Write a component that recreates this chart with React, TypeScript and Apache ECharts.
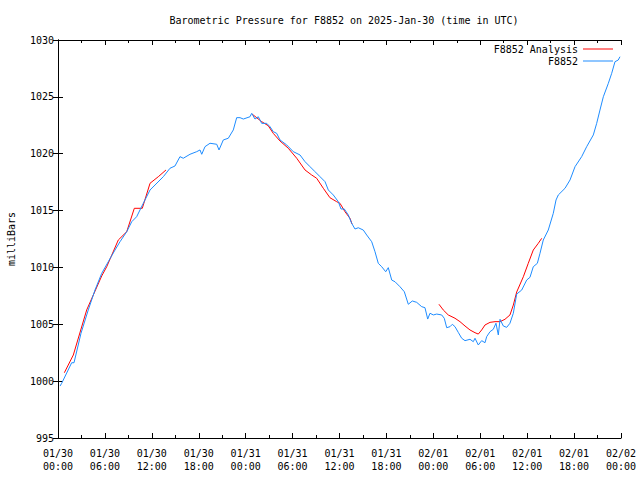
import React, { useEffect, useRef } from "react";
import * as echarts from "echarts";

const titleText = "Barometric Pressure for F8852 on 2025-Jan-30 (time in UTC)";
const yAxisName = "milliBars";
const dateLabels = ["01/30", "01/31", "02/01", "02/02"];
const timeLabels = ["00:00", "06:00", "12:00", "18:00"];

// F8852 observations: hours since 2025-01-30 00:00 UTC, pressure in mb
const obsHours = [
  0.26, 0.47, 1.75, 2.05, 2.94, 3.87, 4.73, 5.59, 6.43, 7.29, 7.93, 8.79, 9.43, 10.06, 10.91,
  11.77, 12.41, 13.47, 14.32, 14.96, 15.6, 16.02, 16.88, 17.74, 18.16, 18.38, 18.8, 19.44, 20.3,
  20.59, 21.14, 21.78, 22.42, 22.85, 23.28, 23.7, 24.55, 24.77, 25.19, 25.62, 26.05, 26.69, 27.11,
  27.53, 27.97, 28.39, 29.25, 30.09, 30.95, 31.59, 32.23, 32.87, 33.51, 34.15, 34.57, 35.21, 35.85,
  36.19, 36.61, 37.13, 37.56, 37.98, 38.4, 39.04, 39.48, 40.12, 40.54, 40.96, 41.4, 41.91, 42.24,
  42.68, 43.1, 43.74, 44.29, 44.8, 45.31, 45.87, 46.51, 46.93, 47.28, 47.57, 48.0, 48.43, 49.07,
  49.4, 49.71, 50.13, 50.43, 50.77, 51.19, 51.63, 52.05, 52.69, 53.11, 53.33, 53.75, 54.18, 54.61,
  54.82, 55.25, 55.67, 56.01, 56.31, 56.53, 56.95, 57.38, 57.8, 58.23, 58.66, 59.3, 59.94, 60.36,
  60.78, 61.3, 61.64, 62.06, 62.7, 63.34, 63.69, 63.98, 64.84, 65.48, 66.12, 66.97, 67.61, 68.46,
  68.89, 69.31, 69.74, 70.38, 70.81, 71.23, 71.65, 71.87,
];
const obsValues = [
  999.57, 999.81, 1001.62, 1001.62, 1004.21, 1006.26, 1008.01, 1009.48, 1010.5, 1011.53, 1012.26,
  1013.14, 1014.02, 1014.46, 1015.64, 1016.81, 1017.25, 1017.98, 1018.72, 1018.92, 1019.74, 1019.6,
  1019.95, 1020.18, 1020.33, 1019.95, 1020.62, 1020.92, 1020.83, 1020.33, 1021.21, 1021.36, 1022.09,
  1023.17, 1023.17, 1023.05, 1023.25, 1023.55, 1023.05, 1023.25, 1022.67, 1022.67, 1022.38, 1021.94,
  1021.79, 1021.21, 1020.77, 1020.18, 1019.89, 1019.3, 1018.86, 1018.42, 1017.98, 1017.54, 1016.81,
  1016.37, 1015.78, 1015.14, 1015.14, 1014.61, 1013.88, 1013.38, 1013.49, 1013.29, 1012.85, 1012.26,
  1011.38, 1010.36, 1010.06, 1009.62, 1009.98, 1008.89, 1008.74, 1008.3, 1007.86, 1006.76, 1007.05,
  1006.93, 1006.55, 1006.46, 1005.46, 1005.97, 1005.82, 1005.9, 1005.82, 1005.53, 1004.7, 1004.79,
  1005.0, 1004.79, 1004.29, 1003.77, 1003.56, 1003.68, 1003.47, 1003.77, 1003.18, 1003.56, 1003.38,
  1003.91, 1004.35, 1004.56, 1005.09, 1004.06, 1005.44, 1004.85, 1004.73, 1005.09, 1005.97, 1007.66,
  1008.01, 1008.89, 1009.13, 1010.06, 1010.36, 1011.24, 1012.41, 1013.29, 1014.76, 1015.93, 1016.37,
  1016.96, 1017.69, 1018.86, 1019.74, 1020.62, 1021.65, 1022.67, 1023.84, 1025.01, 1026.19, 1027.07,
  1028.09, 1028.24, 1028.53,
];

// F8852 Analysis (null marks a gap between segments)
const anaHours = [
  0.81, 1.96, 3.67, 5.59, 6.23, 7.71, 8.79, 9.76, 10.78, 11.77, 12.83, 13.81,
  19.0,
  24.81, 26.05, 26.89, 27.53, 28.39, 29.45, 30.53, 31.59, 32.44, 33.08, 33.93, 34.78, 35.64, 36.06,
  36.7, 37.34, 37.6,
  43.0,
  48.72, 49.27, 49.91, 50.77, 51.41, 52.05, 52.69, 53.33, 53.75, 54.18, 54.61, 55.25, 55.89, 56.53,
  57.16, 57.8, 58.23, 58.66, 59.51, 60.14, 60.78, 61.42, 61.86,
];
const anaValues = [
  1000.74, 1002.3, 1006.26, 1009.25, 1010.06, 1012.41, 1013.14, 1015.2, 1015.2, 1017.4, 1017.98,
  1018.57,
  null,
  1023.49, 1022.82, 1022.46, 1021.79, 1021.12, 1020.48, 1019.6, 1018.57, 1018.13, 1017.84, 1016.96,
  1016.13, 1015.78, 1015.64, 1014.9, 1014.32, 1013.82,
  null,
  1006.76, 1006.26, 1005.82, 1005.53, 1005.23, 1004.85, 1004.5, 1004.26, 1004.14, 1004.5, 1004.94,
  1005.17, 1005.23, 1005.23, 1005.44, 1005.82, 1006.69, 1007.84, 1009.18, 1010.36, 1011.53, 1012.12,
  1012.56,
];

const FONT = "DejaVu Sans Mono";
const LINE_ICON = "path://M0,0H30V1H0Z";

export default function App() {
  const ref = useRef<HTMLDivElement>(null);
  useEffect(() => {
    if (!ref.current) return;
    const chart = echarts.init(ref.current, null, { renderer: "svg" });
    const obsData = obsHours.map((h, i) => [h, obsValues[i]]);
    const anaData = anaHours.map((h, i) => [h, anaValues[i]]);
    const axisLine = { show: true, lineStyle: { color: "#000", width: 1 } };
    const xFmt = (v: number) =>
      dateLabels[Math.floor(v / 24)] + "\n" + timeLabels[Math.round((v % 24) / 6)];
    chart.setOption({
      animation: false,
      backgroundColor: "#fff",
      title: {
        text: titleText,
        left: 339,
        top: 10,
        textAlign: "center",
        textStyle: { fontFamily: FONT, fontSize: 10, fontWeight: "normal", color: "#000" },
      },
      legend: {
        orient: "vertical",
        align: "right",
        right: 27,
        top: 44,
        padding: 0,
        itemWidth: 30,
        itemHeight: 10,
        itemGap: 2,
        textStyle: { fontFamily: FONT, fontSize: 10, color: "#000" },
        data: [
          { name: "F8852 Analysis", icon: LINE_ICON },
          { name: "F8852", icon: LINE_ICON },
        ],
      },
      grid: {
        left: 58,
        right: 19,
        top: 40,
        bottom: 42,
        containLabel: false,
        outerBoundsMode: "none",
      },
      xAxis: [
        {
          type: "value",
          min: 0,
          max: 72,
          interval: 6,
          axisLine,
          axisTick: { show: true, inside: true, length: 5, lineStyle: { color: "#000" } },
          minorTick: { show: true, splitNumber: 2, length: 3, lineStyle: { color: "#000" } },
          splitLine: { show: false },
          axisLabel: {
            formatter: xFmt,
            fontFamily: FONT,
            fontSize: 10,
            color: "#000",
            lineHeight: 13,
            margin: 9,
          },
        },
        {
          type: "value",
          position: "top",
          min: 0,
          max: 72,
          interval: 6,
          axisLine,
          axisTick: { show: true, inside: true, length: 5, lineStyle: { color: "#000" } },
          minorTick: { show: true, splitNumber: 2, length: 3, lineStyle: { color: "#000" } },
          splitLine: { show: false },
          axisLabel: { show: false },
        },
      ],
      yAxis: [
        {
          type: "value",
          min: 995,
          max: 1030,
          interval: 5,
          name: yAxisName,
          nameLocation: "middle",
          nameGap: 42,
          nameRotate: 90,
          nameTextStyle: { fontFamily: FONT, fontSize: 10, color: "#000" },
          axisLine,
          axisTick: { show: true, inside: true, length: 5, lineStyle: { color: "#000" } },
          splitLine: { show: false },
          axisLabel: {
            formatter: (v: number) => String(v),
            fontFamily: FONT,
            fontSize: 10,
            color: "#000",
            margin: 4,
          },
        },
        {
          type: "value",
          position: "right",
          min: 995,
          max: 1030,
          interval: 5,
          axisLine,
          axisTick: { show: true, inside: true, length: 5, lineStyle: { color: "#000" } },
          splitLine: { show: false },
          axisLabel: { show: false },
        },
      ],
      series: [
        {
          name: "F8852 Analysis",
          type: "line",
          data: anaData,
          showSymbol: false,
          symbol: "none",
          connectNulls: false,
          lineStyle: { color: "#ff0000", width: 1 },
          itemStyle: { color: "#ff0000" },
        },
        {
          name: "F8852",
          type: "line",
          data: obsData,
          showSymbol: false,
          symbol: "none",
          lineStyle: { color: "#1e8cff", width: 1 },
          itemStyle: { color: "#1e8cff" },
        },
      ],
    });
    return () => chart.dispose();
  }, []);
  return (
    <div
      ref={ref}
      style={{ position: "fixed", left: 0, top: 0, width: 640, height: 480 }}
    />
  );
}
